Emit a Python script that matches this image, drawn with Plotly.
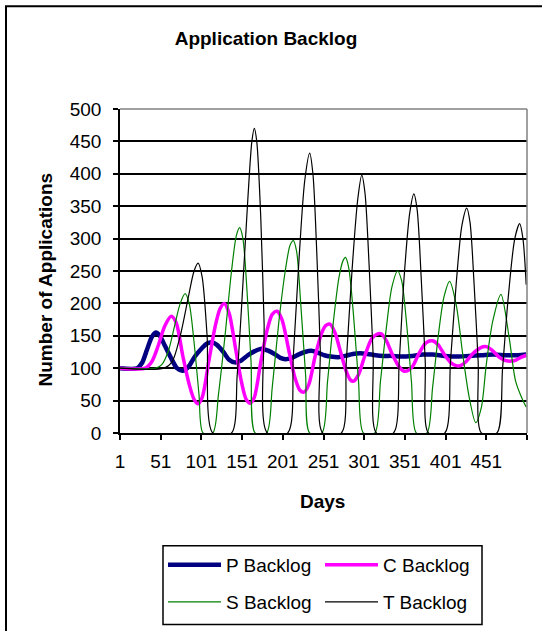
import plotly.graph_objects as go

# ---- series data: (day, number of applications) ----
p_days = [1, 22, 28, 34, 40, 45, 50, 56, 64, 71, 78, 85, 93, 101, 108, 114, 120, 128, 135, 142,
          150, 158, 166, 175, 183, 192, 198, 204, 212, 220, 228, 236, 244, 252, 260, 269, 278,
          287, 296, 305, 315, 325, 335, 347, 360, 373, 385, 400, 415, 430, 445, 460, 475, 490, 500]
p_vals = [100, 100, 108, 128, 148, 155, 150, 135, 115, 100, 96, 102, 118, 130, 138, 140, 136, 125, 113, 109,
          112, 120, 126, 130, 127, 121, 116, 114, 116, 121, 125, 127, 124, 120, 118, 117, 119,
          122, 123, 122, 120, 119, 119, 118, 119, 121, 121, 119, 118, 119, 120, 121, 120, 120, 121]

c_days = [1, 32, 40, 48, 56, 64, 70, 78, 86, 92, 97, 102, 110, 118, 124, 129, 135, 143, 150, 156,
          161, 166, 174, 182, 188, 194, 200, 208, 216, 222, 227, 233, 241, 249, 254, 259, 265, 272,
          279, 284, 288, 294, 302, 310, 316, 322, 328, 336, 344, 349, 354, 360, 368, 376, 381, 386,
          392, 400, 408, 414, 419, 426, 434, 442, 447, 452, 458, 466, 474, 478, 482, 488, 494, 500]
c_vals = [100, 100, 110, 135, 165, 180, 170, 120, 75, 52, 45, 55, 110, 165, 192, 200, 185, 130, 80, 52,
          46, 55, 110, 160, 183, 188, 175, 130, 85, 66, 63, 75, 120, 155, 166, 168, 155, 125,
          95, 82, 80, 90, 120, 145, 152, 153, 143, 120, 102, 96, 96, 102, 122, 138, 142, 142,
          136, 120, 108, 104, 104, 110, 122, 130, 133, 133, 128, 118, 112, 111, 111, 113, 117, 120]

s_days = [1, 45, 52, 60, 68, 75, 81, 86, 92, 98, 103, 115, 122, 130, 138, 144, 148, 152, 157, 162,
          167, 181, 188, 196, 204, 210, 214, 218, 223, 229, 234, 249, 256, 263, 270, 275, 278, 282,
          288, 294, 300, 314, 321, 328, 335, 342, 347, 353, 359, 365, 378, 385, 392, 399, 406, 414,
          422, 430, 438, 445, 451, 459, 469, 479, 487, 496, 500]
s_vals = [100, 100, 105, 125, 165, 200, 215, 200, 140, 60, 0, 0, 60, 150, 250, 305, 317, 300, 220, 110,
          0, 0, 70, 170, 250, 290, 297, 280, 200, 90, 0, 0, 80, 170, 240, 266, 271, 255,
          180, 80, 0, 0, 80, 160, 225, 250, 235, 170, 80, 0, 0, 70, 150, 210, 234, 198,
          122, 55, 16, 40, 106, 173, 214, 148, 80, 50, 40]

t_days = [1, 55, 65, 75, 85, 92, 97, 102, 108, 115, 138, 145, 152, 158, 163, 166, 169, 174, 178, 182,
          207, 214, 221, 228, 234, 238, 243, 247, 250, 273, 279, 286, 293, 298, 302, 307, 312, 316,
          337, 344, 350, 357, 362, 366, 371, 376, 380, 400, 407, 414, 421, 427, 431, 436, 441, 445,
          464, 471, 478, 486, 492, 496, 500]
t_vals = [100, 100, 110, 150, 210, 250, 262, 240, 150, 0, 0, 90, 230, 360, 450, 470, 450, 330, 170, 0,
          0, 120, 270, 390, 432, 400, 270, 130, 0, 0, 110, 250, 360, 398, 370, 260, 120, 0,
          0, 110, 240, 340, 369, 345, 240, 110, 0, 0, 110, 230, 320, 347, 325, 230, 110, 0,
          0, 100, 210, 300, 323, 300, 229]

x_tick_vals = [1, 51, 101, 151, 201, 251, 301, 351, 401, 451, 501]
x_tick_text = ["1", "51", "101", "151", "201", "251", "301", "351", "401", "451", ""]
y_tick_vals = list(range(0, 501, 50))

FONT = "Liberation Sans, Arial, sans-serif"

# pixel helpers for placing things relative to the plot area (120..527 x 109..434)
def px_x(px):
    return (px - 120) / 407

def px_y(py):
    return (434 - py) / 325

# name, days, values, colour, width, legend row
series = [
    ("P Backlog", p_days, p_vals, "#000080", 4.5, "legend"),
    ("C Backlog", c_days, c_vals, "#FF00FF", 3.5, "legend"),
    ("S Backlog", s_days, s_vals, "#008000", 1.2, "legend2"),
    ("T Backlog", t_days, t_vals, "#000000", 1.2, "legend2"),
]

fig = go.Figure()
for name, xs, ys, color, width, leg in series:
    fig.add_trace(go.Scatter(
        x=xs, y=ys, name=name, mode="lines", legend=leg,
        line=dict(color=color, width=width, shape="spline", smoothing=0.8),
    ))

legend_common = dict(
    orientation="h", xanchor="left", yanchor="middle",
    borderwidth=0, bgcolor="rgba(0,0,0,0)",
    itemwidth=53, entrywidth=89, traceorder="normal",
    font=dict(size=19),
)

fig.update_layout(
    width=542, height=631,
    margin=dict(l=120, r=15, t=109, b=197),
    paper_bgcolor="white", plot_bgcolor="white",
    font=dict(family=FONT, size=19, color="black"),
    title=dict(text="<b>Application Backlog</b>", x=266 / 542, xanchor="center",
               y=1 - 38 / 631, yanchor="middle", font=dict(size=19)),
    showlegend=True,
    legend=dict(x=px_x(163), y=px_y(565), **legend_common),
    legend2=dict(x=px_x(163), y=px_y(602), **legend_common),
    xaxis=dict(
        range=[1, 501], tickvals=x_tick_vals, ticktext=x_tick_text,
        showgrid=False, zeroline=False, showline=True, linecolor="black", linewidth=1.5,
        ticks="outside", ticklen=5, tickwidth=1.5, tickcolor="black",
        ticklabelstandoff=5,
    ),
    yaxis=dict(
        range=[0, 500], tickvals=y_tick_vals,
        showgrid=True, gridcolor="black", gridwidth=1.5,
        zeroline=False, showline=True, linecolor="black", linewidth=1.5,
        ticks="outside", ticklen=5, tickwidth=1.5, tickcolor="black",
        ticklabelstandoff=8,
    ),
    annotations=[
        dict(text="<b>Number of Applications</b>", xref="paper", yref="paper",
             x=px_x(45), y=px_y(280), textangle=-90,
             showarrow=False, xanchor="center", yanchor="middle", font=dict(size=19)),
        dict(text="<b>Days</b>", xref="paper", yref="paper",
             x=px_x(322), y=px_y(503),
             showarrow=False, xanchor="center", yanchor="middle", font=dict(size=19)),
    ],
    shapes=[
        # grey plot-area border on top and right
        dict(type="line", xref="paper", yref="paper", x0=0, x1=1, y0=1, y1=1,
             line=dict(color="#808080", width=1.5), layer="above"),
        dict(type="line", xref="paper", yref="paper", x0=1, x1=1, y0=0, y1=1,
             line=dict(color="#808080", width=1.5), layer="above"),
        # chart frame
        dict(type="rect", xref="paper", yref="paper",
             x0=px_x(6), x1=px_x(560), y0=px_y(650), y1=px_y(6),
             line=dict(color="black", width=2), layer="below"),
        # legend box
        dict(type="rect", xref="paper", yref="paper",
             x0=px_x(163), x1=px_x(482), y0=px_y(626), y1=px_y(547),
             line=dict(color="black", width=1.5), layer="above"),
    ],
)

fig.write_html("out.html")
